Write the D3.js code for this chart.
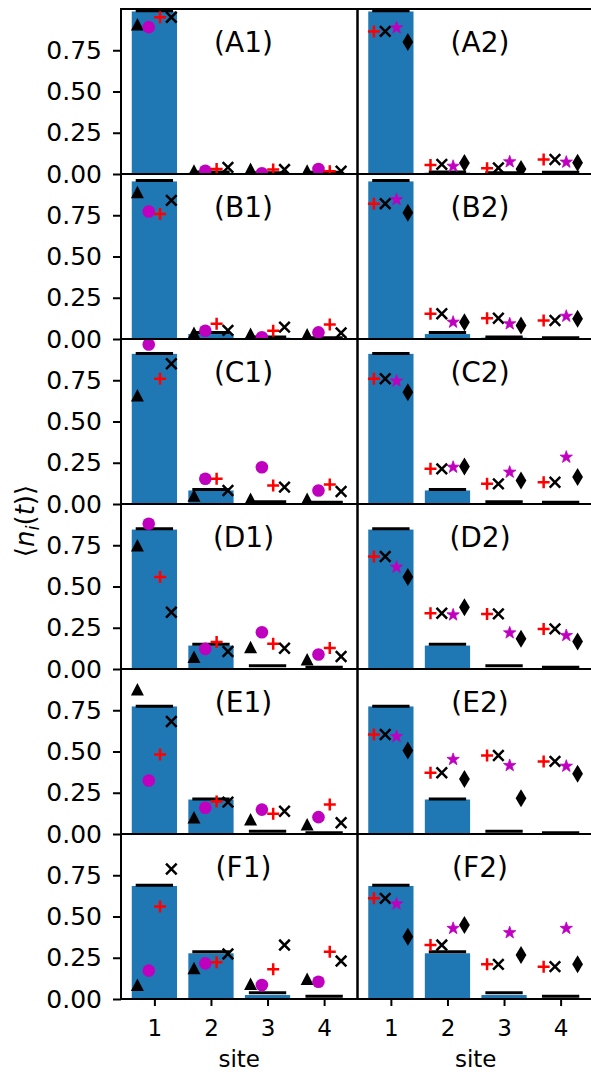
<!DOCTYPE html>
<html>
<head>
<meta charset="utf-8">
<script src="https://cdn.jsdelivr.net/npm/d3@7"></script>
<style>
  body { margin: 0; background: #fff; }
  svg { display: block; font-family: "DejaVu Sans", sans-serif; }
</style>
</head>
<body>
<svg id="chart" width="591" height="1074"></svg>
<script>
// sites along the x axis and panel rows
var sites = [1, 2, 3, 4];
var rowNames = ["A", "B", "C", "D", "E", "F"];
var yTicks = [0, 0.25, 0.5, 0.75];

// blue bars and black level lines, shared by both columns of a row
var barHeights = [
    [0.985, 0.008, 0.004, 0.003],
    [0.955, 0.030, 0.008, 0.004],
    [0.910, 0.082, 0.004, 0.002],
    [0.845, 0.142, 0.006, 0.003],
    [0.773, 0.209, 0.006, 0.002],
    [0.685, 0.277, 0.024, 0.005]
];
var lineLevels = [
    [0.990, 0.012, 0.008, 0.010],
    [0.960, 0.040, 0.012, 0.008],
    [0.912, 0.088, 0.014, 0.010],
    [0.850, 0.150, 0.020, 0.010],
    [0.775, 0.212, 0.017, 0.007],
    [0.690, 0.287, 0.038, 0.016]
];

// left column markers
var leftTriangle = [
    [0.906, 0.020, 0.030, 0.020],
    [0.890, 0.037, 0.030, 0.027],
    [0.658, 0.050, 0.030, 0.030],
    [0.748, 0.072, 0.132, 0.058],
    [0.876, 0.100, 0.088, 0.058],
    [0.085, 0.186, 0.091, 0.121]
];
var leftCircle = [
    [0.890, 0.020, 0.005, 0.030],
    [0.773, 0.050, 0.011, 0.040],
    [0.967, 0.153, 0.223, 0.082],
    [0.880, 0.122, 0.223, 0.088],
    [0.324, 0.159, 0.148, 0.102],
    [0.172, 0.216, 0.085, 0.105]
];
var leftPlus = [
    [0.950, 0.030, 0.027, 0.017],
    [0.757, 0.092, 0.050, 0.088],
    [0.759, 0.153, 0.112, 0.118],
    [0.557, 0.163, 0.153, 0.128],
    [0.482, 0.197, 0.122, 0.179],
    [0.560, 0.222, 0.180, 0.287]
];
var leftCross = [
    [0.950, 0.040, 0.027, 0.017],
    [0.840, 0.052, 0.072, 0.037],
    [0.850, 0.082, 0.102, 0.076],
    [0.344, 0.106, 0.126, 0.076],
    [0.682, 0.193, 0.138, 0.068],
    [0.788, 0.273, 0.327, 0.230]
];

// right column markers
var rightPlus = [
    [0.864, 0.055, 0.035, 0.088],
    [0.820, 0.153, 0.126, 0.112],
    [0.759, 0.213, 0.122, 0.132],
    [0.682, 0.338, 0.334, 0.243],
    [0.603, 0.371, 0.476, 0.440],
    [0.610, 0.327, 0.210, 0.196]
];
var rightCross = [
    [0.864, 0.058, 0.037, 0.088],
    [0.820, 0.153, 0.126, 0.112],
    [0.759, 0.213, 0.122, 0.132],
    [0.682, 0.338, 0.334, 0.243],
    [0.603, 0.371, 0.476, 0.440],
    [0.610, 0.327, 0.210, 0.196]
];
var rightStar = [
    [0.886, 0.047, 0.074, 0.072],
    [0.845, 0.102, 0.092, 0.138],
    [0.745, 0.223, 0.193, 0.284],
    [0.617, 0.328, 0.219, 0.203],
    [0.591, 0.452, 0.415, 0.411],
    [0.576, 0.428, 0.402, 0.428]
];
var rightDiamond = [
    [0.800, 0.066, 0.030, 0.068],
    [0.765, 0.102, 0.082, 0.122],
    [0.678, 0.227, 0.142, 0.163],
    [0.557, 0.375, 0.183, 0.167],
    [0.506, 0.334, 0.217, 0.365],
    [0.378, 0.448, 0.267, 0.210]
];

var barColor = "#1f77b4",
    magenta = "#bf00bf",
    red = "#ff0000";

// marker shapes, centred on 0,0
function trianglePath() { return "M0,-6.5L6.5,6L-6.5,6Z"; }
function plusPath() { return "M-6,0H6M0,-6V6"; }
function crossPath() { return "M-5.3,-5.3L5.3,5.3M-5.3,5.3L5.3,-5.3"; }
function diamondPath() { return "M0,-9L5.4,0L0,9L-5.4,0Z"; }
function starPath() {
    var pts = [], ro = 6.5, ri = 2.6;
    for (var k = 0; k < 10; k++) {
        var r = k % 2 ? ri : ro, a = Math.PI * k / 5;
        pts.push([r * Math.sin(a), -r * Math.cos(a)]);
    }
    return "M" + pts.join("L") + "Z";
}

var leftSeries = [
    {values: leftTriangle, offset: -0.3, path: trianglePath, fill: "#000", stroke: "none", sw: 0},
    {values: leftCircle, offset: -0.1, circle: true, fill: magenta},
    {values: leftPlus, offset: 0.1, path: plusPath, fill: "none", stroke: red, sw: 2.5},
    {values: leftCross, offset: 0.3, path: crossPath, fill: "none", stroke: "#000", sw: 2.5}
];
var rightSeries = [
    {values: rightPlus, offset: -0.3, path: plusPath, fill: "none", stroke: red, sw: 2.5},
    {values: rightCross, offset: -0.1, path: crossPath, fill: "none", stroke: "#000", sw: 2.5},
    {values: rightStar, offset: 0.1, path: starPath, fill: magenta, stroke: magenta, sw: 0.8},
    {values: rightDiamond, offset: 0.3, path: diamondPath, fill: "#000", stroke: "none", sw: 0}
];

var plotLeft = 121, plotTop = 9,
    panelW = 236.5, panelH = 165;

var xScale = d3.scaleLinear().domain([0.41, 4.59]).range([0, panelW]);
var yScale = d3.scaleLinear().domain([0, 1]).range([panelH, 0]);

var svg = d3.select("#chart");
svg.append("rect").attr("width", 591).attr("height", 1074).attr("fill", "#fff");

var defs = svg.append("defs");
defs.append("clipPath").attr("id", "panel-clip")
    .append("rect").attr("width", panelW).attr("height", panelH);

rowNames.forEach(function(name, r) {
    [0, 1].forEach(function(c) {
        var g = svg.append("g")
            .attr("transform", "translate(" + (plotLeft + c * panelW) + "," + (plotTop + r * panelH) + ")");
        var content = g.append("g").attr("clip-path", "url(#panel-clip)");

        content.selectAll(".bar").data(sites).enter().append("rect")
            .attr("class", "bar")
            .attr("x", function(s) { return xScale(s - 0.4); })
            .attr("width", xScale(0.8) - xScale(0))
            .attr("y", function(s, i) { return yScale(barHeights[r][i]); })
            .attr("height", function(s, i) { return panelH - yScale(barHeights[r][i]); })
            .attr("fill", barColor);

        content.selectAll(".level").data(sites).enter().append("line")
            .attr("class", "level")
            .attr("x1", function(s) { return xScale(s - 0.33); })
            .attr("x2", function(s) { return xScale(s + 0.33); })
            .attr("y1", function(s, i) { return yScale(lineLevels[r][i]); })
            .attr("y2", function(s, i) { return yScale(lineLevels[r][i]); })
            .attr("stroke", "#000")
            .attr("stroke-width", 3);

        var series = c === 0 ? leftSeries : rightSeries;
        series.forEach(function(ser) {
            var pos = function(s, i) {
                return "translate(" + xScale(s + ser.offset) + "," + yScale(ser.values[r][i]) + ")";
            };
            if (ser.circle) {
                content.selectAll(null).data(sites).enter().append("circle")
                    .attr("transform", pos)
                    .attr("r", 6.3)
                    .attr("fill", ser.fill);
            } else {
                content.selectAll(null).data(sites).enter().append("path")
                    .attr("transform", pos)
                    .attr("d", ser.path())
                    .attr("fill", ser.fill)
                    .attr("stroke", ser.stroke)
                    .attr("stroke-width", ser.sw);
            }
        });

        // y axis only labelled on the left column
        if (c === 0) {
            var yAxis = d3.axisLeft(yScale)
                .tickValues(yTicks)
                .tickFormat(d3.format(".2f"))
                .tickSize(8)
                .tickPadding(11);
            var ya = g.append("g").call(yAxis);
            ya.select(".domain").remove();
            ya.selectAll("line").attr("stroke-width", 2);
            ya.selectAll("text").attr("font-size", 25).attr("font-family", "DejaVu Sans").attr("fill", "#000");
        }

        if (r === rowNames.length - 1) {
            var xAxis = d3.axisBottom(xScale)
                .tickValues(sites)
                .tickFormat(d3.format("d"))
                .tickSize(7)
                .tickPadding(14);
            var xa = g.append("g").attr("transform", "translate(0," + panelH + ")").call(xAxis);
            xa.select(".domain").remove();
            xa.selectAll("line").attr("stroke-width", 2);
            xa.selectAll("text").attr("font-size", 23).attr("font-family", "DejaVu Sans").attr("fill", "#000");

            g.append("text")
                .attr("x", panelW / 2)
                .attr("y", panelH + 68)
                .attr("text-anchor", "middle")
                .attr("font-size", 23)
                .text("site");
        }

        // spines
        g.append("rect")
            .attr("width", panelW).attr("height", panelH)
            .attr("fill", "none").attr("stroke", "#000").attr("stroke-width", 2);

        g.append("text")
            .attr("x", 122.5)
            .attr("y", 43)
            .attr("text-anchor", "middle")
            .attr("font-size", 28)
            .text("(" + name + (c + 1) + ")");
    });
});

// y label: <n_i(t)>
var yl = svg.append("text")
    .attr("transform", "translate(34,521) rotate(-90)")
    .attr("text-anchor", "middle")
    .attr("font-size", 26);
yl.append("tspan").text("\u27e8");
yl.append("tspan").attr("font-style", "italic").text("n");
yl.append("tspan").attr("font-style", "italic").attr("font-size", 18).attr("dy", 5).text("i");
yl.append("tspan").attr("dy", -5).text("(");
yl.append("tspan").attr("font-style", "italic").text("t");
yl.append("tspan").text(")\u27e9");
</script>
</body>
</html>
